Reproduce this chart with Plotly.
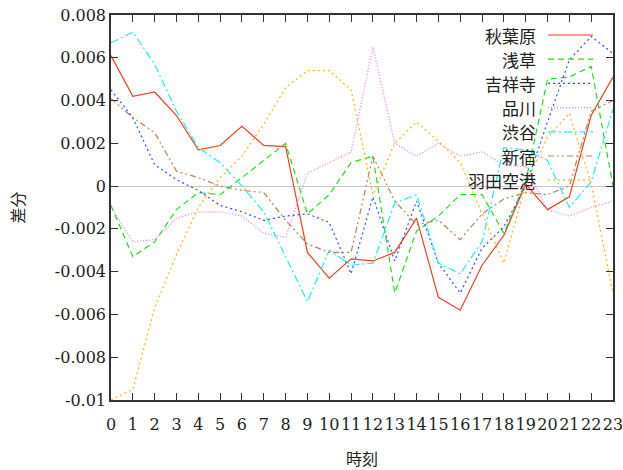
import plotly.graph_objects as go

hours = list(range(24))

akihabara = [0.0061, 0.0042, 0.0044, 0.0033, 0.0017, 0.0019, 0.0028, 0.0019, 0.00185, -0.0031, -0.0043, -0.0034, -0.0035, -0.0031, -0.0015, -0.0052, -0.0058, -0.0037, -0.0023, 0.0001, -0.0011, -0.0005, 0.0033, 0.0051]
asakusa = [-0.0009, -0.0033, -0.0026, -0.0011, -0.0003, -0.0004, 0.0004, 0.0012, 0.0020, -0.0013, -0.0004, 0.0011, 0.0014, -0.0050, -0.0021, -0.0014, -0.0004, -0.0004, -0.0022, 0.0002, 0.0050, 0.0051, 0.0056, 0.0000]
kichijoji = [0.0045, 0.0032, 0.0010, 0.0003, -0.0002, -0.0009, -0.0012, -0.0016, -0.0014, -0.0013, -0.0017, -0.0041, -0.0005, -0.0035, -0.0007, -0.0036, -0.0050, -0.0029, -0.0019, 0.0000, 0.0030, 0.0059, 0.0070, 0.0062]
shinagawa = [-0.0010, -0.0026, -0.0025, -0.0015, -0.0012, -0.0012, -0.0014, -0.0022, -0.0024, 0.0006, 0.0011, 0.0016, 0.0065, 0.0020, 0.0014, 0.0020, 0.0014, 0.0016, 0.0010, 0.0009, -0.0011, -0.0014, -0.0010, -0.0007]
shibuya = [0.0067, 0.0072, 0.0057, 0.0035, 0.0018, 0.0011, 0.0000, -0.0012, -0.0033, -0.0054, -0.0030, -0.0037, -0.0036, -0.0008, -0.0004, -0.0036, -0.0041, -0.0026, 0.0018, 0.0017, 0.0012, -0.0010, 0.0002, 0.0036]
shinjuku = [0.0041, 0.0032, 0.0025, 0.0007, 0.0004, 0.0000, -0.0002, -0.0003, -0.0016, -0.0027, -0.0031, -0.0031, 0.0014, -0.0007, -0.0018, -0.0016, -0.0025, -0.0013, -0.0006, -0.0003, -0.0004, 0.0000, 0.0035, 0.0040]
haneda = [-0.0100, -0.0095, -0.0057, -0.0032, -0.0010, 0.0004, 0.0014, 0.0029, 0.0046, 0.0054, 0.0054, 0.0045, -0.0004, 0.0020, 0.0030, 0.0021, 0.0011, -0.0013, -0.0036, 0.0001, 0.0023, 0.0034, 0.0001, -0.0050]

names = ["秋葉原", "浅草", "吉祥寺", "品川", "渋谷", "新宿", "羽田空港"]
series = [akihabara, asakusa, kichijoji, shinagawa, shibuya, shinjuku, haneda]
colors = ["#f2401e", "#22dd22", "#2255ff", "#f070f0", "#22eeee", "#c08058", "#ffb020"]
dashes = ["solid", "6px,4px", "2px,3px", "1px,2px", "8px,3px,2px,3px", "6px,3px,2px,3px,2px,3px", "2px,3px"]

ytick_vals = [0.008, 0.006, 0.004, 0.002, 0, -0.002, -0.004, -0.006, -0.008, -0.01]
ytick_text = ["0.008", "0.006", "0.004", "0.002", "0", "-0.002", "-0.004", "-0.006", "-0.008", "-0.01"]

fig = go.Figure()
for name, ys, c, d in zip(names, series, colors, dashes):
    fig.add_trace(go.Scatter(x=hours, y=ys, mode="lines", name=name,
                             line=dict(color=c, width=1.2, dash=d), showlegend=False))

W, H = 623, 470
L, R, T, B = 111, 613, 15, 400

# manual legend (text on left, sample on right, like gnuplot)
for i, (name, c, d) in enumerate(zip(names, colors, dashes)):
    py = 35 + 24.2 * i
    yp = (B - py) / (B - T)
    fig.add_annotation(x=(538 - L) / (R - L), y=yp, xref="paper", yref="paper",
                       text=name, showarrow=False, xanchor="right", yanchor="middle",
                       font=dict(family="Noto Sans CJK JP", size=17, color="#222"))
    fig.add_shape(type="line", xref="paper", yref="paper",
                  x0=(548 - L) / (R - L), x1=(593 - L) / (R - L), y0=yp, y1=yp,
                  line=dict(color=c, width=1.2, dash=d))

axis_font = dict(family="DejaVu Serif", size=16, color="#222")
fig.update_layout(
    width=W, height=H,
    margin=dict(l=L, r=W - R, t=T, b=H - B),
    paper_bgcolor="white", plot_bgcolor="white",
    xaxis=dict(range=[0, 23], tickvals=hours, ticktext=[str(h) for h in hours],
               ticks="inside", ticklen=7, tickcolor="#333", showline=True, linecolor="#333",
               linewidth=1.5, mirror="ticks", showgrid=False, zeroline=False,
               tickfont=axis_font, automargin=False, ticklabeloverflow="allow",
               ticklabelstandoff=9, tickangle=0,
               title=dict(text="時刻", font=dict(family="Noto Sans CJK JP", size=16, color="#222"), standoff=21)),
    yaxis=dict(range=[-0.01, 0.008], tickvals=ytick_vals, ticktext=ytick_text,
               ticks="inside", ticklen=7, tickcolor="#333", showline=True, linecolor="#333",
               linewidth=1.5, mirror="ticks", showgrid=False,
               zeroline=True, zerolinecolor="#c8c8c8", zerolinewidth=1,
               tickfont=axis_font, automargin=False, ticklabeloverflow="allow",
               title=dict(text="差分", font=dict(family="Noto Sans CJK JP", size=16, color="#222"), standoff=26)),
)
fig.write_html("out.html", config={"displayModeBar": False},
               post_script="document.body.style.margin='0';document.body.style.overflow='hidden';")
